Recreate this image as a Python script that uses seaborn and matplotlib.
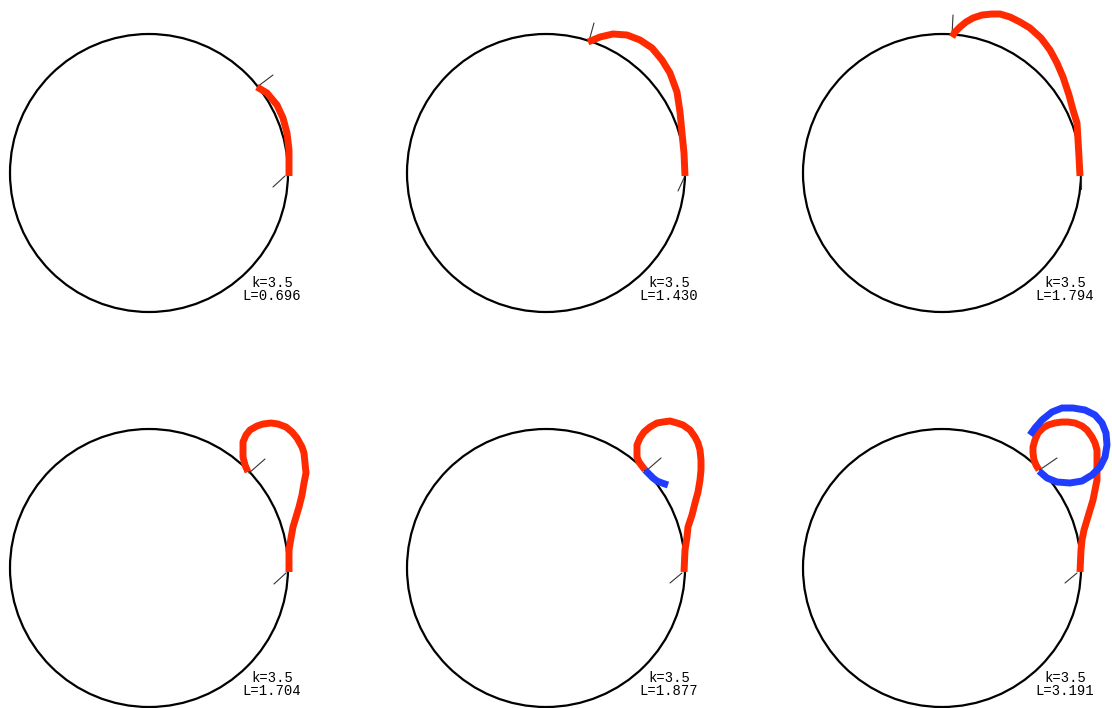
import matplotlib
matplotlib.use("Agg")
import matplotlib.pyplot as plt
from matplotlib.patches import Circle
import seaborn as sns

# all curve values are offsets from each circle's centre, in pixels of the
# reference picture (y pointing up), circle radius = 139
RADIUS = 139
CURVATURE = "3.5"
LENGTHS = ["0.696", "1.430", "1.794", "1.704", "1.877", "3.191"]

red_x = [
    [140, 140, 138, 134, 128, 118, 108],
    [139, 138, 136, 134, 131, 124, 116, 106, 94, 81, 67, 54, 42],
    [138, 137, 136, 135, 131, 127, 121, 115, 108, 99, 88, 78, 68, 58, 50, 40,
     31, 24, 18, 13, 10],
    [140, 140, 142, 144, 147, 150, 153, 155, 157, 156, 155, 153, 148, 143, 137,
     129, 122, 114, 108, 101, 97, 94, 94, 94, 96, 99],
    [138, 139, 141, 142, 146, 149, 152, 154, 155, 155, 154, 152, 149, 144, 137,
     131, 124, 117, 111, 104, 98, 94, 91, 91, 91, 93, 96, 99],
    [138, 139, 140, 142, 145, 148, 151, 153, 155, 155, 155, 155, 153, 150, 145,
     140, 133, 126, 120, 113, 106, 101, 96, 93, 91, 91, 92, 94, 97],
]
red_y = [
    [-3, 23, 40, 55, 68, 80, 86],
    [-3, 20, 40, 61, 81, 100, 113, 125, 133, 138, 139, 136, 131],
    [-3, 16, 33, 50, 63, 78, 96, 110, 123, 135, 145, 151, 156, 159, 159, 158,
     155, 151, 146, 141, 136],
    [-4, 18, 30, 41, 51, 61, 73, 85, 95, 105, 115, 121, 130, 136, 141,
     144, 145, 144, 142, 138, 133, 126, 119, 111, 103, 96],
    [-4, 18, 31, 41, 53, 65, 76, 88, 98, 108, 118, 125, 131, 138, 143,
     145, 147, 146, 145, 141, 136, 130, 123, 118, 111, 106, 102, 98],
    [-4, 18, 28, 38, 48, 58, 68, 78, 88, 98, 108, 118, 125, 131, 138,
     142, 145, 146, 146, 145, 143, 140, 135, 128, 121, 115, 108, 103, 98],
]

blue_x = [
    [], [], [], [],
    [99, 103, 107, 111, 116, 122],
    [97, 105, 115, 128, 140, 150, 158, 163, 165, 164, 160, 153, 143, 131, 120,
     110, 100, 93, 88],
]
blue_y = [
    [], [], [], [],
    [98, 94, 90, 87, 85, 83],
    [97, 90, 86, 85, 87, 93, 101, 111, 123, 135, 145, 153, 158, 160, 160,
     156, 148, 140, 133],
]

# short marks at both ends of each curve: (x0, y0, x1, y1)
start_ticks = [
    (124, -14, 136, -3),
    (132, -18, 138, -5),
    (139, -16, 139, -3),
    (125, -16, 137, -5),
    (124, -15, 136, -5),
    (123, -15, 135, -5),
]
end_ticks = [
    (108, 86, 124, 98),
    (43, 132, 48, 150),
    (10, 137, 11, 158),
    (100, 95, 116, 109),
    (100, 97, 115, 110),
    (99, 99, 115, 110),
]

RED = "#ff2a00"
BLUE = "#1f3cff"

sns.set_theme(style="white")
plt.rcParams["font.family"] = ["Liberation Mono", "DejaVu Sans Mono"]

FIG_W, FIG_H = 1112, 708
fig = plt.figure(figsize=(FIG_W / 100, FIG_H / 100), dpi=100)
fig.patch.set_facecolor("white")

centers_x = [149, 546, 942]
centers_y = [173, 568]
half_w, half_h = 196, 175

for i in range(6):
    cx = centers_x[i % 3]
    cy = centers_y[i // 3]
    ax = fig.add_axes([
        (cx - half_w) / FIG_W,
        (FIG_H - (cy + half_h)) / FIG_H,
        2 * half_w / FIG_W,
        2 * half_h / FIG_H,
    ])
    ax.set_xlim(-half_w, half_w)
    ax.set_ylim(-half_h, half_h)
    ax.set_axis_off()

    ax.add_patch(Circle((0, 0), RADIUS, fill=False, edgecolor="black", linewidth=1.6))

    for (x0, y0, x1, y1) in (start_ticks[i], end_ticks[i]):
        ax.plot([x0, x1], [y0, y1], color="#333333", linewidth=0.8)

    sns.lineplot(x=red_x[i], y=red_y[i], sort=False, estimator=None, color=RED,
                 linewidth=5, solid_capstyle="butt", solid_joinstyle="round",
                 ax=ax, legend=False)
    if blue_x[i]:
        sns.lineplot(x=blue_x[i], y=blue_y[i], sort=False, estimator=None, color=BLUE,
                     linewidth=5, solid_capstyle="butt", solid_joinstyle="round",
                     ax=ax, legend=False)

    ax.text(123, -110, f"k={CURVATURE}", ha="center", va="center", fontsize=10, color="black")
    ax.text(123, -123, f"L={LENGTHS[i]}", ha="center", va="center", fontsize=10, color="black")

fig.savefig("out.png", dpi=100, facecolor="white")
